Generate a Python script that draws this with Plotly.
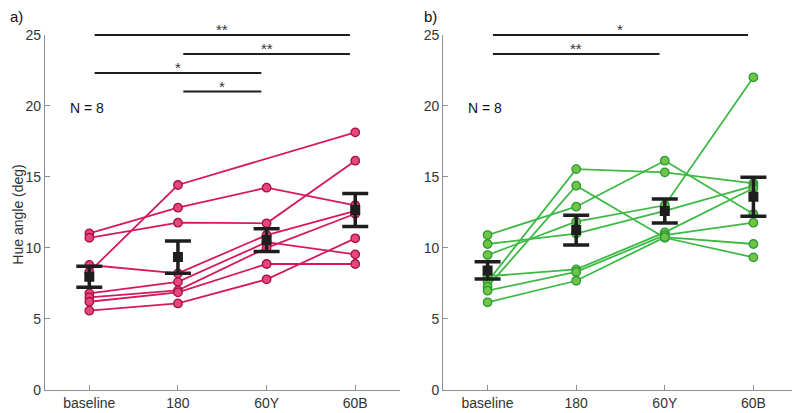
import plotly.graph_objects as go

categories = ["baseline", "180", "60Y", "60B"]
y_ticks = [0, 5, 10, 15, 20, 25]

# Panel a) individual subjects (None = no value, line joins across)
a_subjects = [
    [8.3, 14.43, None, 18.14],
    [11.02, 12.83, 14.24, 13.0],
    [10.71, 11.77, 11.73, 16.14],
    [8.79, 8.2, 10.9, 12.6],
    [6.79, 7.6, 10.4, 9.54],
    [6.51, 7.0, 10.0, 12.4],
    [6.2, 6.86, 8.86, 8.86],
    [5.57, 6.08, 7.78, 10.67],
]
a_mean = [7.96, 9.35, 10.55, 12.67]
a_sem = [0.74, 1.14, 0.80, 1.16]
a_sig_start = ["baseline", "180", "baseline", "180"]
a_sig_end = ["60B", "60B", "60Y", "60Y"]
a_sig_level = [25.0, 23.66, 22.32, 21.01]
a_sig_label = ["**", "**", "*", "*"]

# Panel b) individual subjects
b_subjects = [
    [7.61, 15.55, 15.32, 14.55],
    [7.26, 14.38, 10.71, 9.33],
    [10.9, 12.9, 16.14, 12.38],
    [9.49, 11.84, 13.0, 22.02],
    [10.27, 11.0, 12.6, 14.36],
    [8.0, 8.48, 11.09, 14.2],
    [6.98, 8.3, 10.9, 11.77],
    [6.16, 7.68, 10.75, 10.27],
]
b_mean = [8.41, 11.25, 12.6, 13.6]
b_sem = [0.61, 1.05, 0.85, 1.38]
b_sig_start = ["baseline", "baseline"]
b_sig_end = ["60B", "60Y"]
b_sig_level = [25.0, 23.66]
b_sig_label = ["*", "**"]

n_label = "N = 8"

FONT = "Liberation Sans, Arial, Helvetica, sans-serif"
AXIS_GREY = "#8f8f8f"
TEXT = "#333333"
BLACK = "#1e1e1e"

# page body adds an 8px margin, so the figure is sized to fit the window
FIG_W, FIG_H = 792, 405
XRANGE = [-0.5, 3.5]
YRANGE = [0, 25]
YDOM = [0.0575, 0.9333]
XDOMS = [[0.0467, 0.4944], [0.5496, 0.9971]]

panels = [
    dict(subjects=a_subjects, mean=a_mean, sem=a_sem, line="#d6195f",
         fill="#e8457f", edge="#a3123f", sig=(a_sig_start, a_sig_end, a_sig_level, a_sig_label),
         xa="x", ya="y", label="a)", label_x=0.0, xdom=XDOMS[0]),
    dict(subjects=b_subjects, mean=b_mean, sem=b_sem, line="#3dba45",
         fill="#72c447", edge="#2b9a35", sig=(b_sig_start, b_sig_end, b_sig_level, b_sig_label),
         xa="x2", ya="y2", label="b)", label_x=0.523, xdom=XDOMS[1]),
]

cat_pos = {c: i for i, c in enumerate(categories)}


def to_paper_x(v, dom):
    return dom[0] + (v - XRANGE[0]) / (XRANGE[1] - XRANGE[0]) * (dom[1] - dom[0])


def to_paper_y(v):
    return YDOM[0] + (v - YRANGE[0]) / (YRANGE[1] - YRANGE[0]) * (YDOM[1] - YDOM[0])


fig = go.Figure()
shapes = []
annotations = []

for p in panels:
    for subj in p["subjects"]:
        fig.add_trace(go.Scatter(
            x=[cat_pos[c] for c in categories], y=subj, mode="lines+markers",
            connectgaps=True, xaxis=p["xa"], yaxis=p["ya"],
            line=dict(color=p["line"], width=1.8),
            marker=dict(size=8.5, color=p["fill"], line=dict(color=p["edge"], width=1.3)),
            showlegend=False, hoverinfo="skip", cliponaxis=False,
        ))
    fig.add_trace(go.Scatter(
        x=[cat_pos[c] for c in categories], y=p["mean"], mode="markers",
        xaxis=p["xa"], yaxis=p["ya"],
        marker=dict(symbol="square", size=10, color=BLACK),
        error_y=dict(type="data", array=p["sem"], visible=True, color=BLACK,
                     thickness=3.5, width=13),
        showlegend=False, hoverinfo="skip",
    ))
    starts, ends, levels, labels = p["sig"]
    for s, e, lv, lb in zip(starts, ends, levels, labels):
        x0 = to_paper_x(cat_pos[s] + 0.06, p["xdom"])
        x1 = to_paper_x(cat_pos[e] - 0.06, p["xdom"])
        yp = to_paper_y(lv)
        shapes.append(dict(type="line", xref="paper", yref="paper", x0=x0, x1=x1,
                           y0=yp, y1=yp, line=dict(color=BLACK, width=2)))
        annotations.append(dict(text=lb, xref="paper", yref="paper", x=(x0 + x1) / 2, y=yp,
                                yanchor="bottom", xanchor="center", showarrow=False, yshift=-5,
                                font=dict(family=FONT, size=15, color=TEXT)))
    annotations.append(dict(text=n_label, xref=p["xa"], yref=p["ya"], x=-0.24, y=19.85,
                            xanchor="left", yanchor="middle", showarrow=False,
                            font=dict(family=FONT, size=14, color="#111111")))
    annotations.append(dict(text=p["label"], xref="paper", yref="paper", x=p["label_x"], y=1.0,
                            xanchor="left", yanchor="top", showarrow=False, yshift=2,
                            font=dict(family=FONT, size=15, color="#111111")))

annotations.append(dict(text="Hue angle (deg)", xref="paper", yref="paper", x=0.0115, y=0.49,
                        textangle=-90, showarrow=False, xanchor="center", yanchor="middle",
                        font=dict(family=FONT, size=14, color=TEXT)))

xaxis_common = dict(range=XRANGE, tickmode="array", tickvals=list(range(len(categories))),
                    ticktext=categories, showline=True, linecolor=AXIS_GREY, linewidth=1.2,
                    ticks="inside", ticklen=5, tickcolor=AXIS_GREY, showgrid=False, zeroline=False,
                    tickfont=dict(family=FONT, size=14, color=TEXT), fixedrange=True,
                    automargin=False)
yaxis_common = dict(range=YRANGE, tickmode="array", tickvals=y_ticks, showline=True,
                    linecolor=AXIS_GREY, linewidth=1.2, ticks="inside", ticklen=5,
                    tickcolor=AXIS_GREY, showgrid=False, zeroline=False, domain=YDOM,
                    tickfont=dict(family=FONT, size=14, color=TEXT), fixedrange=True,
                    automargin=False)

fig.update_layout(
    width=FIG_W, height=FIG_H,
    margin=dict(l=0, r=0, t=0, b=0, autoexpand=False),
    paper_bgcolor="white", plot_bgcolor="white",
    xaxis=dict(domain=XDOMS[0], anchor="y", **xaxis_common),
    yaxis=dict(anchor="x", **yaxis_common),
    xaxis2=dict(domain=XDOMS[1], anchor="y2", **xaxis_common),
    yaxis2=dict(anchor="x2", **yaxis_common),
    shapes=shapes,
    annotations=annotations,
    font=dict(family=FONT),
)

fig.write_html("out.html")
